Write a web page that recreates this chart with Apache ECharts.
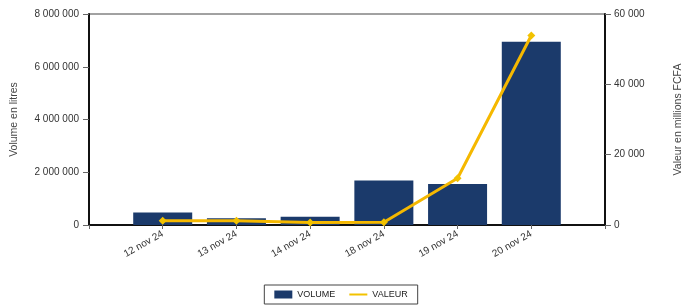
<!DOCTYPE html>
<html>
<head>
<meta charset="utf-8">
<script src="https://cdn.jsdelivr.net/npm/echarts@6/dist/echarts.min.js"></script>
<style>
  html, body { margin: 0; padding: 0; background: #fff; }
  #chart { width: 682px; height: 305px; }
</style>
</head>
<body>
<div id="chart"></div>
<script>
const categories = ['12 nov 24', '13 nov 24', '14 nov 24', '18 nov 24', '19 nov 24', '20 nov 24'];
const volume = [470000, 255000, 315000, 1690000, 1550000, 6950000];
const valeur = [1200, 1200, 700, 800, 13300, 53900];
const leftTicks = [0, 2000000, 4000000, 6000000, 8000000];
const rightTicks = [0, 20000, 40000, 60000];

const fmt = (v) => String(v).replace(/\B(?=(\d{3})+(?!\d))/g, ' ');

const chart = echarts.init(document.getElementById('chart'));
const axisColor = '#111';
const labelColor = '#333';

chart.setOption({
  animation: false,
  textStyle: { fontFamily: 'Liberation Sans, Arial, sans-serif' },
  grid: {
    left: 89, right: 77, top: 14, bottom: 80,
    outerBoundsMode: 'none',
    show: true, borderColor: '#444', borderWidth: 1,
  },
  legend: {
    bottom: 1,
    left: 'center',
    borderColor: '#444',
    borderWidth: 1,
    padding: [5, 10, 5, 10],
    itemGap: 14,
    itemWidth: 18,
    itemHeight: 8,
    textStyle: { fontSize: 9, color: '#222' },
    data: [
      { name: 'VOLUME', icon: 'rect' },
      { name: 'VALEUR', icon: 'path://M0,3 L18,3 L18,5 L0,5 Z' },
    ],
  },
  xAxis: {
    type: 'value',
    min: -1,
    max: categories.length,
    interval: 1,
    splitLine: { show: false },
    axisLine: { show: true, onZero: false, lineStyle: { color: axisColor, width: 2 } },
    axisTick: { show: true, length: 4, lineStyle: { color: '#666', width: 1 } },
    axisLabel: {
      rotate: 30,
      fontSize: 10,
      color: labelColor,
      margin: 8,
      formatter: (v) => categories[v] || '',
    },
  },
  yAxis: [
    {
      type: 'value',
      min: 0,
      max: leftTicks[leftTicks.length - 1],
      interval: leftTicks[1] - leftTicks[0],
      name: 'Volume en litres',
      nameLocation: 'middle',
      nameGap: 69,
      nameTextStyle: { fontSize: 10.5, color: '#444' },
      splitLine: { show: false },
      axisLine: { show: true, onZero: false, lineStyle: { color: axisColor, width: 2 } },
      axisTick: { show: true, length: 6, lineStyle: { color: '#666' } },
      axisLabel: { fontSize: 10, color: labelColor, margin: 10, formatter: fmt },
    },
    {
      type: 'value',
      min: 0,
      max: rightTicks[rightTicks.length - 1],
      interval: rightTicks[1] - rightTicks[0],
      position: 'right',
      name: 'Valeur en millions FCFA',
      nameLocation: 'middle',
      nameGap: 68,
      nameTextStyle: { fontSize: 10.5, color: '#444' },
      splitLine: { show: false },
      axisLine: { show: true, onZero: false, lineStyle: { color: axisColor, width: 2 } },
      axisTick: { show: true, length: 6, lineStyle: { color: '#666' } },
      axisLabel: { fontSize: 10, color: labelColor, margin: 9, formatter: fmt },
    },
  ],
  series: [
    {
      name: 'VOLUME',
      type: 'bar',
      yAxisIndex: 0,
      barWidth: 59,
      itemStyle: { color: '#1b3a6b' },
      data: volume.map((v, i) => [i, v]),
    },
    {
      name: 'VALEUR',
      type: 'line',
      yAxisIndex: 1,
      symbol: 'diamond',
      symbolSize: 8,
      itemStyle: { color: '#f2c200' },
      lineStyle: { color: '#f5b800', width: 3 },
      data: valeur.map((v, i) => [i, v]),
    },
  ],
});
</script>
</body>
</html>
